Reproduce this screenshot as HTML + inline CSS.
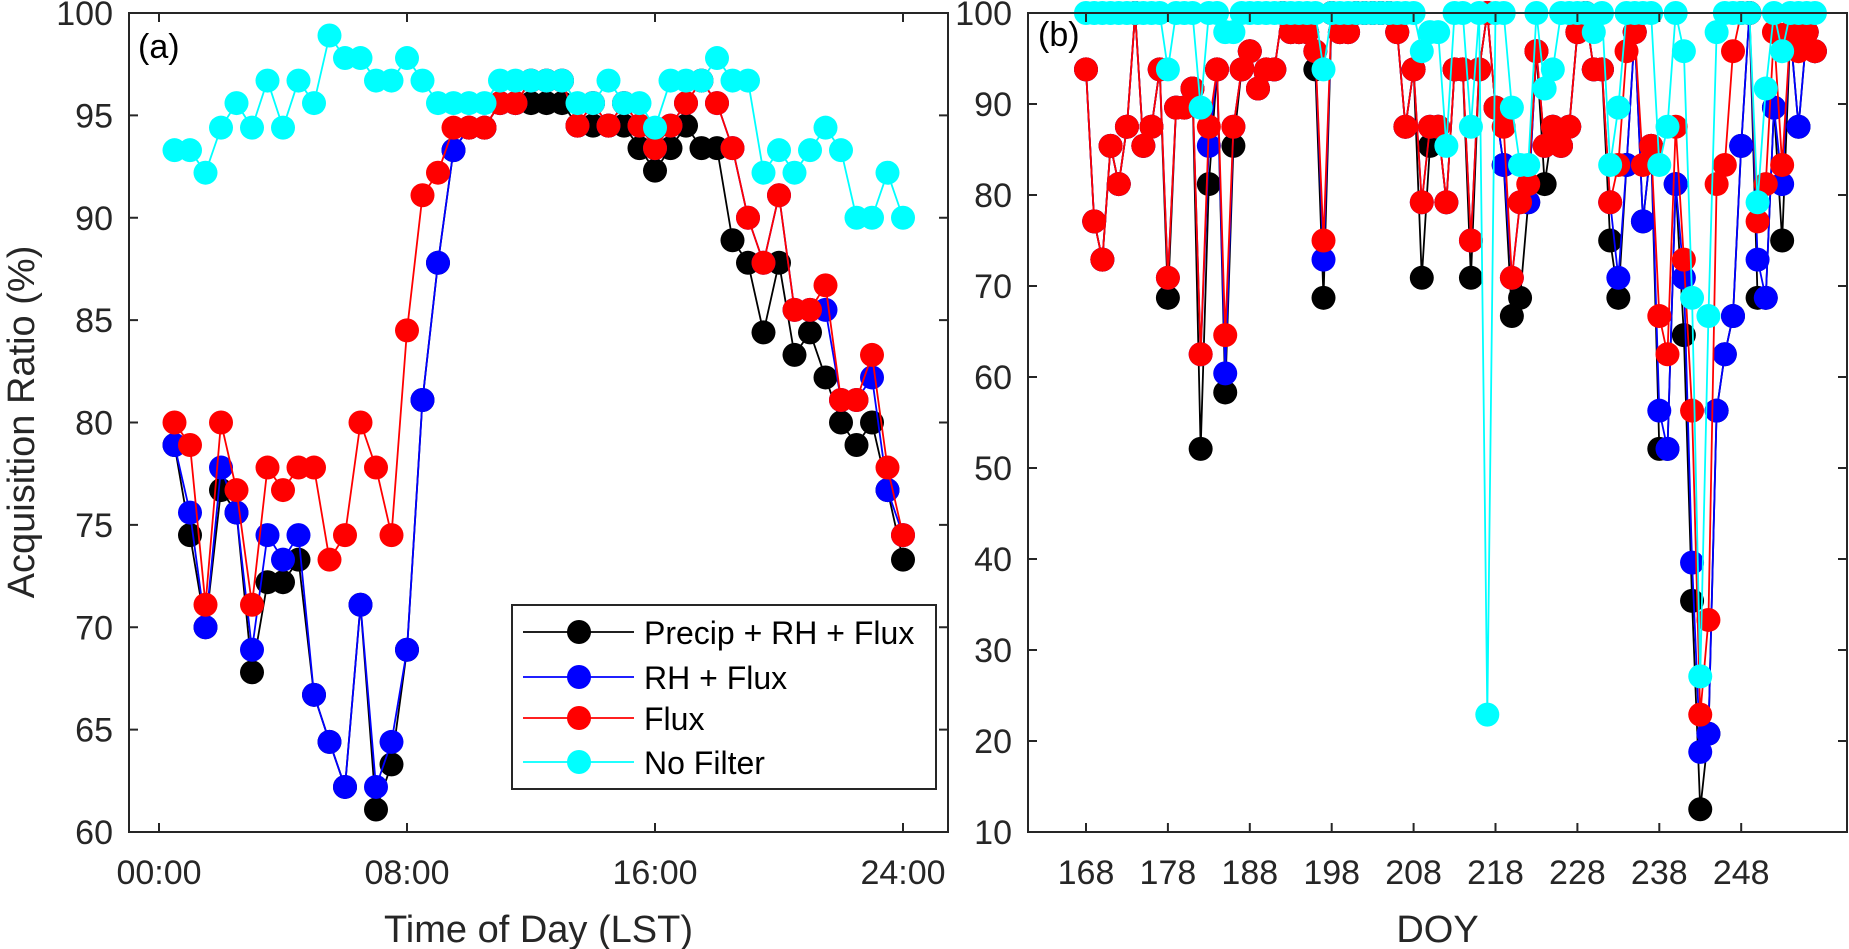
<!DOCTYPE html>
<html><head><meta charset="utf-8"><style>
html,body{margin:0;padding:0;background:#fff;}
svg{display:block;font-family:"Liberation Sans",Arial,sans-serif;}
</style></head><body>
<svg id="chart" width="1849" height="949" viewBox="0 0 1849 949" xmlns="http://www.w3.org/2000/svg">
<g id="panelA"></g>
<g id="panelB"></g>
</svg>
<script>
// ---------- Panel (a) data ----------
const timesA = [0.5,1,1.5,2,2.5,3,3.5,4,4.5,5,5.5,6,6.5,7,7.5,8,8.5,9,9.5,10,10.5,11,11.5,12,12.5,13,13.5,14,14.5,15,15.5,16,16.5,17,17.5,18,18.5,19,19.5,20,20.5,21,21.5,22,22.5,23,23.5,24];
const blackA = [78.9,74.5,70.0,76.7,75.6,67.8,72.2,72.2,73.3,66.7,64.4,62.2,71.1,61.1,63.3,68.9,81.1,87.8,93.3,94.4,94.4,95.6,95.6,95.6,95.6,95.6,94.5,94.5,94.5,94.5,93.4,92.3,93.4,94.5,93.4,93.4,88.9,87.8,84.4,87.8,83.3,84.4,82.2,80.0,78.9,80.0,76.7,73.3];
const blueA = [78.9,75.6,70.0,77.8,75.6,68.9,74.5,73.3,74.5,66.7,64.4,62.2,71.1,62.2,64.4,68.9,81.1,87.8,93.3,94.4,94.4,95.6,95.6,96.7,96.7,96.7,94.5,95.6,94.5,95.6,94.5,93.4,94.5,95.6,96.7,95.6,93.4,90.0,87.8,91.1,85.5,85.5,85.5,81.1,81.1,82.2,76.7,74.5];
const redA = [80.0,78.9,71.1,80.0,76.7,71.1,77.8,76.7,77.8,77.8,73.3,74.5,80.0,77.8,74.5,84.5,91.1,92.2,94.4,94.4,94.4,95.6,95.6,96.7,96.7,96.7,94.5,95.6,94.5,95.6,94.5,93.4,94.5,95.6,96.7,95.6,93.4,90.0,87.8,91.1,85.5,85.5,86.7,81.1,81.1,83.3,77.8,74.5];
const cyanA = [93.3,93.3,92.2,94.4,95.6,94.4,96.7,94.4,96.7,95.6,98.9,97.8,97.8,96.7,96.7,97.8,96.7,95.6,95.6,95.6,95.6,96.7,96.7,96.7,96.7,96.7,95.6,95.6,96.7,95.6,95.6,94.4,96.7,96.7,96.7,97.8,96.7,96.7,92.2,93.3,92.2,93.3,94.4,93.3,90.0,90.0,92.2,90.0];
const xTicksA = [0,8,16,24];
const xTickLabelsA = ["00:00","08:00","16:00","24:00"];
const yTicksA = [60,65,70,75,80,85,90,95,100];

// ---------- Panel (b) data ----------
const doyStart = 168;
const redB = [93.8,77.1,72.9,85.4,81.2,87.5,100,85.4,87.5,93.8,
70.9,89.6,89.6,91.7,62.5,87.5,93.8,64.6,87.5,93.8,
95.8,91.7,93.8,93.8,100,97.9,97.9,97.9,95.8,75.0,
100,97.9,97.9,100,100,100,100,100,97.9,87.5,
93.8,79.2,87.5,87.5,79.2,93.8,93.8,75.0,93.8,100,
89.6,87.5,70.9,79.2,81.2,95.8,85.4,87.5,85.4,87.5,
97.9,100,93.8,93.8,79.2,83.3,95.8,97.9,83.3,85.4,
66.7,62.5,87.5,72.9,56.3,22.9,33.3,81.2,83.3,95.8,
100,100,77.1,81.2,97.9,83.3,97.9,95.8,97.9,95.8];
const blueB = [93.8,77.1,72.9,85.4,81.2,87.5,100,85.4,87.5,93.8,
70.9,89.6,89.6,91.7,62.5,85.4,93.8,60.4,87.5,93.8,
95.8,91.7,93.8,93.8,100,97.9,97.9,97.9,95.8,72.9,
100,97.9,97.9,100,100,100,100,100,97.9,87.5,
93.8,79.2,87.5,87.5,79.2,93.8,93.8,75.0,93.8,100,
89.6,83.3,70.9,79.2,79.2,95.8,85.4,87.5,85.4,87.5,
97.9,100,93.8,93.8,79.2,70.9,83.3,97.9,77.1,85.4,
56.3,52.1,81.2,70.9,39.6,18.8,20.8,56.3,62.5,66.7,
85.4,100,72.9,68.7,89.6,81.2,97.9,87.5,97.9,95.8];
const blackB = [93.8,77.1,72.9,85.4,81.2,87.5,100,85.4,87.5,93.8,
68.7,89.6,89.6,91.7,52.1,81.2,93.8,58.3,85.4,93.8,
95.8,91.7,93.8,93.8,100,97.9,97.9,97.9,93.8,68.7,
100,97.9,97.9,100,100,100,100,100,97.9,87.5,
93.8,70.9,85.4,87.5,79.2,93.8,93.8,70.9,93.8,100,
89.6,83.3,66.7,68.7,79.2,95.8,81.2,87.5,85.4,87.5,
97.9,100,93.8,93.8,75.0,68.7,83.3,97.9,77.1,85.4,
52.1,52.1,81.2,64.6,35.4,12.5,20.8,56.3,62.5,66.7,
85.4,100,68.7,68.7,89.6,75.0,97.9,87.5,97.9,95.8];
const cyanB = [100,100,100,100,100,100,100,100,100,100,
93.8,100,100,100,89.6,100,100,97.9,97.9,100,
100,100,100,100,100,100,100,100,100,93.8,
100,100,100,100,100,100,100,100,100,100,
100,95.8,97.9,97.9,85.4,100,100,87.5,100,22.9,
100,100,89.6,83.3,83.3,100,91.7,93.8,100,100,
100,100,97.9,100,83.3,89.6,100,100,100,100,
83.3,87.5,100,95.8,68.7,27.1,66.7,97.9,100,100,
100,100,79.2,91.7,100,95.8,100,100,100,100];
const xTicksB = [168,178,188,198,208,218,228,238,248];
const yTicksB = [10,20,30,40,50,60,70,80,90,100];

const NS = "http://www.w3.org/2000/svg";
function mk(parent, tag, attrs, text){
  const el = document.createElementNS(NS, tag);
  for (const k in attrs) el.setAttribute(k, attrs[k]);
  if (text !== undefined) el.textContent = text;
  parent.appendChild(el);
  return el;
}
const COLORS = {black:"#000000", blue:"#0000ff", red:"#ff0000", cyan:"#00ffff"};
const R = 12;

function drawSeries(g, xs, ys, sx, sy, color, name){
  const sg = mk(g, "g", {});
  
  
  let d = "";
  for (let i=0;i<xs.length;i++){ d += (i?"L":"M") + sx(xs[i]).toFixed(2) + "," + sy(ys[i]).toFixed(2); }
  const p = mk(sg, "path", {d:d, fill:"none", stroke:color, "stroke-width":1.8, "stroke-linejoin":"round"});
  
  
  for (let i=0;i<xs.length;i++){
    const c = mk(sg, "circle", {cx:sx(xs[i]).toFixed(2), cy:sy(ys[i]).toFixed(2), r:R, fill:color});
    
    
  }
}

function drawAxes(g, box, xTicks, xLabels, yTicks, sx, sy, xTitle, tag){
  const {l,r,t,b} = box;
  const ax = mk(g, "g", {stroke:"#262626", "stroke-width":2, fill:"none"});
  
  
  mk(ax, "rect", {x:l, y:t, width:r-l, height:b-t});
  const tl = 9;
  xTicks.forEach((v,i)=>{
    const x = sx(v);
    mk(ax, "line", {x1:x, y1:b, x2:x, y2:b-tl});
    mk(ax, "line", {x1:x, y1:t, x2:x, y2:t+tl});
    const tx = mk(g, "text", {x:x, y:b+52, "text-anchor":"middle", "font-size":34, fill:"#262626"}, xLabels[i]);
    
    
  });
  yTicks.forEach(v=>{
    const y = sy(v);
    mk(ax, "line", {x1:l, y1:y, x2:l+tl, y2:y});
    mk(ax, "line", {x1:r, y1:y, x2:r-tl, y2:y});
    const ty = mk(g, "text", {x:l-16, y:y+12, "text-anchor":"end", "font-size":34, fill:"#262626"}, String(v));
    
    
  });
  const xt = mk(g, "text", {x:(l+r)/2, y:b+110, "text-anchor":"middle", "font-size":38, fill:"#262626"}, xTitle);
  
  
}

// ---------- Panel A ----------
(function(){
  const g = document.getElementById("panelA");
  const box = {l:129, r:948, t:13, b:832};
  const sx = v => 159 + (v - 0) * 31;
  const sy = v => box.b - (v - 60) * (box.b - box.t) / 40;
  const clip = mk(g, "clipPath", {id:"clipA"});
  mk(clip, "rect", {x:box.l-14, y:box.t-14, width:box.r-box.l+28, height:box.b-box.t+28});
  const data = mk(g, "g", {"clip-path":"url(#clipA)"});
  
  
  drawSeries(data, timesA, blackA, sx, sy, COLORS.black, "precip-rh-flux-a");
  drawSeries(data, timesA, blueA, sx, sy, COLORS.blue, "rh-flux-a");
  drawSeries(data, timesA, redA, sx, sy, COLORS.red, "flux-a");
  drawSeries(data, timesA, cyanA, sx, sy, COLORS.cyan, "no-filter-a");
  drawAxes(g, box, xTicksA, xTickLabelsA, yTicksA, sx, sy, "Time of Day (LST)", "panel-a");
  const lab = mk(g, "text", {x:138, y:58, "font-size":34, fill:"#000"}, "(a)");
  
  
  const yt = mk(g, "text", {x:0, y:0, "text-anchor":"middle", "font-size":38, fill:"#262626", transform:"translate(34,422) rotate(-90)"}, "Acquisition Ratio (%)");
  
  

  // legend
  const lg = mk(g, "g", {});
  
  
  mk(lg, "rect", {x:512, y:605, width:424, height:184, fill:"#fff", stroke:"#262626", "stroke-width":2});
  const entries = [["Precip + RH + Flux", COLORS.black, 632],["RH + Flux", COLORS.blue, 677],["Flux", COLORS.red, 718],["No Filter", COLORS.cyan, 762]];
  entries.forEach(e=>{
    const eg = mk(lg, "g", {});
    
    
    mk(eg, "line", {x1:523, y1:e[2], x2:634, y2:e[2], stroke:e[1], "stroke-width":1.8});
    mk(eg, "circle", {cx:579, cy:e[2], r:R, fill:e[1]});
    mk(eg, "text", {x:644, y:e[2]+12, "font-size":32, fill:"#000"}, e[0]);
  });
})();

// ---------- Panel B ----------
(function(){
  const g = document.getElementById("panelB");
  const box = {l:1028, r:1847, t:13, b:832};
  const sx = v => 1086 + (v - 168) * 8.19;
  const sy = v => box.b - (v - 10) * (box.b - box.t) / 90;
  const doys = redB.map((_, i) => doyStart + i);
  const clip = mk(g, "clipPath", {id:"clipB"});
  mk(clip, "rect", {x:box.l, y:0, width:box.r-box.l, height:box.b});
  const data = mk(g, "g", {"clip-path":"url(#clipB)"});
  
  
  drawSeries(data, doys, blackB, sx, sy, COLORS.black, "precip-rh-flux-b");
  drawSeries(data, doys, blueB, sx, sy, COLORS.blue, "rh-flux-b");
  drawSeries(data, doys, redB, sx, sy, COLORS.red, "flux-b");
  drawSeries(data, doys, cyanB, sx, sy, COLORS.cyan, "no-filter-b");
  drawAxes(g, box, xTicksB, xTicksB.map(String), yTicksB, sx, sy, "DOY", "panel-b");
  const lab = mk(g, "text", {x:1038, y:46, "font-size":34, fill:"#000"}, "(b)");
  
  
})();
</script>
</body></html>
